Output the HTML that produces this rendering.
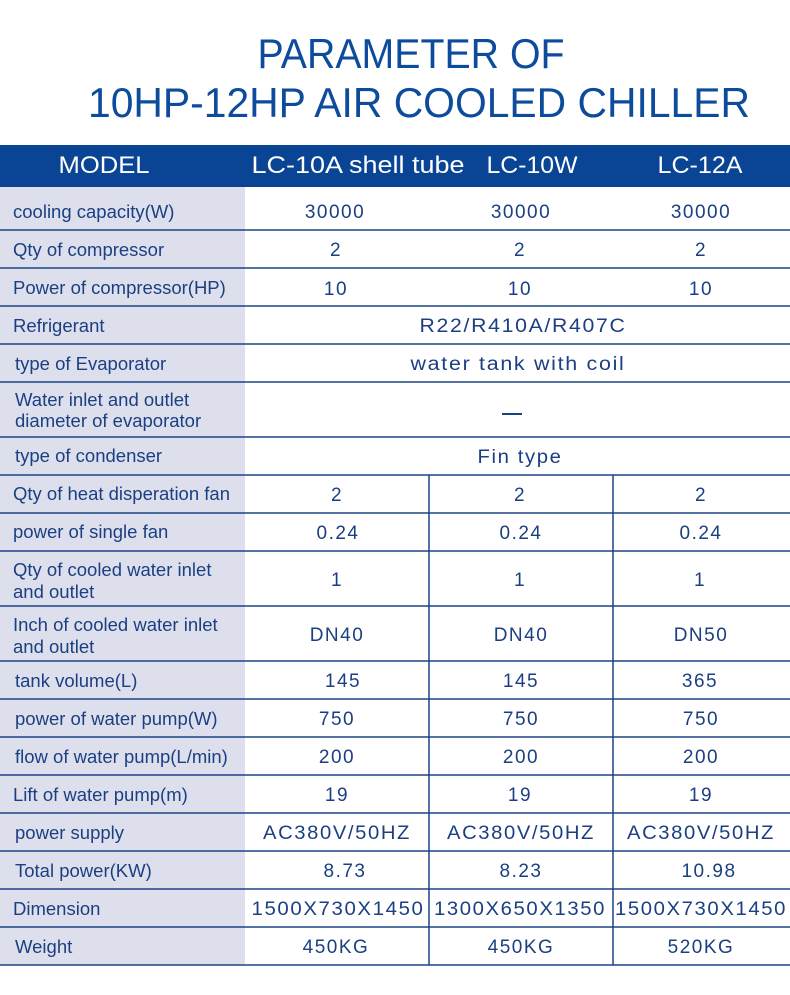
<!DOCTYPE html>
<html><head><meta charset="utf-8"><style>
html,body{margin:0;padding:0;background:#fff;}
svg{display:block;}
text{font-family:"Liberation Sans",sans-serif;}
.l{font-size:18.5px;fill:#1b3f82;}
.v{font-size:19px;fill:#1b3f82;text-anchor:middle;letter-spacing:1.5px;}
.h{font-size:24px;fill:#fff;text-anchor:middle;}
</style></head><body>
<svg width="790" height="995" viewBox="0 0 790 995" xmlns="http://www.w3.org/2000/svg">
<rect width="790" height="995" fill="#fff"/>
<text x="411" y="68" font-size="42" fill="#0d4b9c" text-anchor="middle" textLength="307" lengthAdjust="spacingAndGlyphs">PARAMETER OF</text>
<text x="419" y="117" font-size="42" fill="#0d4b9c" text-anchor="middle" textLength="662" lengthAdjust="spacingAndGlyphs">10HP-12HP AIR COOLED CHILLER</text>
<rect x="0" y="145" width="790" height="42" fill="#0a4494"/>
<text class="h" x="104" y="173" textLength="91" lengthAdjust="spacingAndGlyphs">MODEL</text>
<text class="h" x="358" y="173" textLength="213" lengthAdjust="spacingAndGlyphs">LC-10A shell tube</text>
<text class="h" x="532" y="173" textLength="91" lengthAdjust="spacingAndGlyphs">LC-10W</text>
<text class="h" x="700" y="173" textLength="85" lengthAdjust="spacingAndGlyphs">LC-12A</text>
<rect x="0" y="187" width="245" height="778" fill="#dde0ec"/>
<g stroke="#1b4383" stroke-width="1.5">
<line x1="0" x2="790" y1="230" y2="230"/><line x1="0" x2="790" y1="268" y2="268"/>
<line x1="0" x2="790" y1="306" y2="306"/><line x1="0" x2="790" y1="344" y2="344"/>
<line x1="0" x2="790" y1="382" y2="382"/><line x1="0" x2="790" y1="437" y2="437"/>
<line x1="0" x2="790" y1="475" y2="475"/><line x1="0" x2="790" y1="513" y2="513"/>
<line x1="0" x2="790" y1="551" y2="551"/><line x1="0" x2="790" y1="606" y2="606"/>
<line x1="0" x2="790" y1="661" y2="661"/><line x1="0" x2="790" y1="699" y2="699"/>
<line x1="0" x2="790" y1="737" y2="737"/><line x1="0" x2="790" y1="775" y2="775"/>
<line x1="0" x2="790" y1="813" y2="813"/><line x1="0" x2="790" y1="851" y2="851"/>
<line x1="0" x2="790" y1="889" y2="889"/><line x1="0" x2="790" y1="927" y2="927"/>
<line x1="0" x2="790" y1="965" y2="965"/>
<line x1="429" x2="429" y1="475" y2="965"/><line x1="613" x2="613" y1="475" y2="965"/>
</g>
<text class="l" x="13" y="218">cooling capacity(W)</text>
<text class="l" x="13" y="256">Qty of compressor</text>
<text class="l" x="13" y="294">Power of compressor(HP)</text>
<text class="l" x="13" y="332">Refrigerant</text>
<text class="l" x="15" y="370">type of Evaporator</text>
<text class="l" x="15" y="406">Water inlet and outlet</text>
<text class="l" x="15" y="427">diameter of evaporator</text>
<text class="l" x="15" y="462">type of condenser</text>
<text class="l" x="13" y="500">Qty of heat disperation fan</text>
<text class="l" x="13" y="538">power of single fan</text>
<text class="l" x="13" y="576">Qty of cooled water inlet</text>
<text class="l" x="13" y="598">and outlet</text>
<text class="l" x="13" y="631">Inch of cooled water inlet</text>
<text class="l" x="13" y="653">and outlet</text>
<text class="l" x="15" y="687">tank volume(L)</text>
<text class="l" x="15" y="725">power of water pump(W)</text>
<text class="l" x="15" y="763">flow of water pump(L/min)</text>
<text class="l" x="13" y="801">Lift of water pump(m)</text>
<text class="l" x="15" y="839">power supply</text>
<text class="l" x="15" y="877">Total power(KW)</text>
<text class="l" x="13" y="915">Dimension</text>
<text class="l" x="15" y="953">Weight</text>
<text class="v" x="335" y="218">30000</text><text class="v" x="521" y="218">30000</text><text class="v" x="701" y="218">30000</text>
<text class="v" x="336" y="256">2</text><text class="v" x="520" y="256">2</text><text class="v" x="701" y="256">2</text>
<text class="v" x="336" y="295">10</text><text class="v" x="520" y="295">10</text><text class="v" x="701" y="295">10</text>
<text class="v" x="523" y="332" textLength="207" lengthAdjust="spacingAndGlyphs">R22/R410A/R407C</text>
<text class="v" x="518" y="370" textLength="215" lengthAdjust="spacingAndGlyphs">water tank with coil</text>
<rect x="502" y="413" width="20" height="2" fill="#1b3f82"/>
<text class="v" x="520" y="463" textLength="85" lengthAdjust="spacingAndGlyphs">Fin type</text>
<text class="v" x="337" y="501">2</text><text class="v" x="520" y="501">2</text><text class="v" x="701" y="501">2</text>
<text class="v" x="338" y="539">0.24</text><text class="v" x="521" y="539">0.24</text><text class="v" x="701" y="539">0.24</text>
<text class="v" x="337" y="586">1</text><text class="v" x="520" y="586">1</text><text class="v" x="700" y="586">1</text>
<text class="v" x="337" y="641">DN40</text><text class="v" x="521" y="641">DN40</text><text class="v" x="701" y="641">DN50</text>
<text class="v" x="343" y="687">145</text><text class="v" x="521" y="687">145</text><text class="v" x="700" y="687">365</text>
<text class="v" x="337" y="725">750</text><text class="v" x="521" y="725">750</text><text class="v" x="701" y="725">750</text>
<text class="v" x="337" y="763">200</text><text class="v" x="521" y="763">200</text><text class="v" x="701" y="763">200</text>
<text class="v" x="337" y="801">19</text><text class="v" x="520" y="801">19</text><text class="v" x="701" y="801">19</text>
<text class="v" x="337" y="839" textLength="148" lengthAdjust="spacingAndGlyphs">AC380V/50HZ</text>
<text class="v" x="521" y="839" textLength="148" lengthAdjust="spacingAndGlyphs">AC380V/50HZ</text>
<text class="v" x="701" y="839" textLength="148" lengthAdjust="spacingAndGlyphs">AC380V/50HZ</text>
<text class="v" x="345" y="877">8.73</text><text class="v" x="521" y="877">8.23</text><text class="v" x="709" y="877">10.98</text>
<text class="v" x="338" y="915" textLength="173" lengthAdjust="spacingAndGlyphs">1500X730X1450</text>
<text class="v" x="520" y="915" textLength="172" lengthAdjust="spacingAndGlyphs">1300X650X1350</text>
<text class="v" x="701" y="915" textLength="172" lengthAdjust="spacingAndGlyphs">1500X730X1450</text>
<text class="v" x="336" y="953">450KG</text><text class="v" x="521" y="953">450KG</text><text class="v" x="701" y="953">520KG</text>
</svg>
</body></html>
